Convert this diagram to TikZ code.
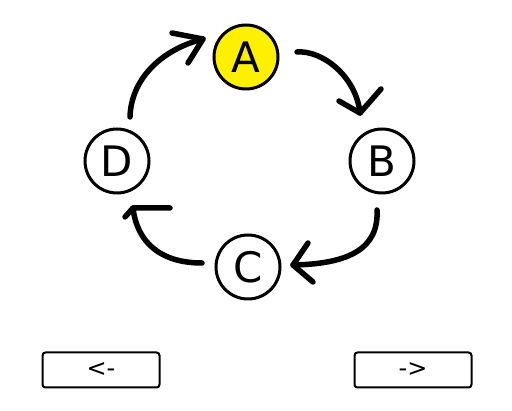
\documentclass[tikz,border=0pt]{standalone}
\usepackage{fontspec}
\setmainfont{DejaVu Sans}
\definecolor{nodeyellow}{RGB}{255,240,0}
\begin{document}
\begin{tikzpicture}[x=1pt,y=-1pt,
  statenode/.style={circle,draw=black,line width=3pt,minimum size=64pt,inner sep=0pt,font=\fontsize{42}{42}\selectfont},
  flow/.style={line width=5.5pt,line cap=round,line join=round},
  btn/.style={draw=black,line width=2pt,rounded corners=3pt,minimum width=117pt,minimum height=35pt,inner sep=0pt,font=\fontsize{24}{24}\selectfont}]
\useasboundingbox (0,0) rectangle (512,411);
\node[statenode,fill=nodeyellow] (A) at (246,57) {A};
\node[statenode] (B) at (382,161) {B};
\node[statenode] (C) at (248,267) {C};
\node[statenode] (D) at (117,161) {D};
% connector end points
\coordinate (ab0) at (297,52);
\coordinate (ab1) at (360,113);
\coordinate (bc0) at (377,210);
\coordinate (bc1) at (293,265);
\coordinate (cd0) at (202,263);
\coordinate (cd1) at (133,208);
\coordinate (da0) at (130,117);
\coordinate (da1) at (203,39);
% A -> B
\draw[flow] (ab0) .. controls (322,50) and (356,76) .. (ab1);
\draw[flow] (339,101) -- (ab1) -- (381,89);
% B -> C
\draw[flow] (bc0) .. controls (379,248) and (350,264) .. (bc1);
\draw[flow] (308,243) -- (bc1) -- (313,282);
% C -> D
\draw[flow] (cd0) .. controls (160,263) and (137,242) .. (cd1);
\draw[flow] (125,217) -- (cd1) -- (170,208);
% D -> A
\draw[flow] (da0) .. controls (131,80) and (160,50) .. (da1);
\draw[flow] (172,33) -- (da1) -- (188,63);
% buttons
\node[btn] (prev) at (101,370) {<-};
\node[btn] (next) at (413,370) {->};
\end{tikzpicture}
\end{document}
